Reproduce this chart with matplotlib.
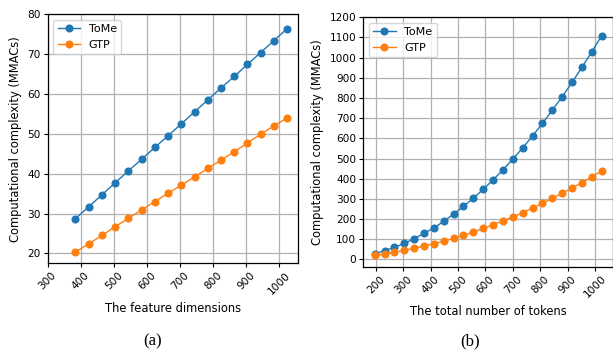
import matplotlib
matplotlib.use("Agg")
import matplotlib.pyplot as plt

# (a) feature dimensions
dims = [384, 424, 464, 504, 544, 584, 624, 664, 704, 744, 784, 824, 864, 904, 944, 984, 1024]
tome_a = [28.7, 31.7, 34.7, 37.7, 40.7, 43.6, 46.6, 49.5, 52.5, 55.5, 58.5, 61.5, 64.4, 67.4, 70.4, 73.4, 76.4]
gtp_a = [20.3, 22.4, 24.5, 26.7, 28.8, 30.9, 33.0, 35.1, 37.1, 39.2, 41.3, 43.4, 45.5, 47.7, 49.9, 52.0, 54.0]

# (b) number of tokens
tokens = [196, 232, 268, 304, 340, 376, 412, 448, 484, 520, 556, 592, 628, 664,
          700, 736, 772, 808, 844, 880, 916, 952, 988, 1024]
tome_b = [28, 43, 60, 79, 103, 129, 156, 189, 225, 263, 303, 348, 394, 444,
          497, 553, 612, 674, 740, 806, 877, 952, 1029, 1109]
gtp_b = [20, 26, 36, 45, 55, 66, 78, 91, 104, 119, 136, 154, 172, 192,
         210, 232, 255, 278, 303, 328, 354, 381, 409, 438]

xticks_a = [300, 400, 500, 600, 700, 800, 900, 1000]
yticks_a = [20, 30, 40, 50, 60, 70, 80]
xticks_b = [200, 300, 400, 500, 600, 700, 800, 900, 1000]
yticks_b = list(range(0, 1201, 100))

W, H = 613, 351
fig = plt.figure(figsize=(W / 100, H / 100), dpi=100)

def px(l, t, r, b):
    return [l / W, 1 - b / H, (r - l) / W, (b - t) / H]

ax1 = fig.add_axes(px(47.7, 14.3, 297.7, 263.3))
ax2 = fig.add_axes(px(363.3, 17.3, 613.0, 266.7))

tick_fs = 7.6
label_fs = 8.3
legend_fs = 8.0

for ax in (ax1, ax2):
    ax.grid(True, color="#b0b0b0", linewidth=0.9)
    ax.set_axisbelow(True)
    ax.tick_params(labelsize=tick_fs, length=3, width=0.8, pad=2)
    for s in ax.spines.values():
        s.set_linewidth(0.9)

ax1.plot(dims, tome_a, marker="o", markersize=4.8, linewidth=1.0, label="ToMe")
ax1.plot(dims, gtp_a, marker="o", markersize=4.8, linewidth=1.0, label="GTP")
ax1.set_xticks(xticks_a)
ax1.set_yticks(yticks_a)
ax1.set_xlim(300, 1056)
ax1.set_ylim(17.5, 80)
ax1.set_xlabel("The feature dimensions", fontsize=label_fs)
ax1.set_ylabel("Computational complexity (MMACs)", fontsize=label_fs)
for lab in ax1.get_xticklabels():
    lab.set_rotation(45)
ax1.legend(loc="upper left", fontsize=legend_fs)

ax2.plot(tokens, tome_b, marker="o", markersize=4.8, linewidth=1.0, label="ToMe")
ax2.plot(tokens, gtp_b, marker="o", markersize=4.8, linewidth=1.0, label="GTP")
ax2.set_xticks(xticks_b)
ax2.set_yticks(yticks_b)
ax2.set_xlim(154.6, 1065.4)
ax2.set_ylim(-36, 1200)
ax2.set_xlabel("The total number of tokens", fontsize=label_fs)
ax2.set_ylabel("Computational complexity (MMACs)", fontsize=label_fs)
for lab in ax2.get_xticklabels():
    lab.set_rotation(45)
ax2.legend(loc="upper left", fontsize=legend_fs)

fig.text(153 / W, 1 - 341 / H, "(a)", ha="center", va="center",
         fontsize=12, family="Liberation Serif")
fig.text(470 / W, 1 - 341 / H, "(b)", ha="center", va="center",
         fontsize=12, family="Liberation Serif")

fig.savefig("out.png", dpi=100)
